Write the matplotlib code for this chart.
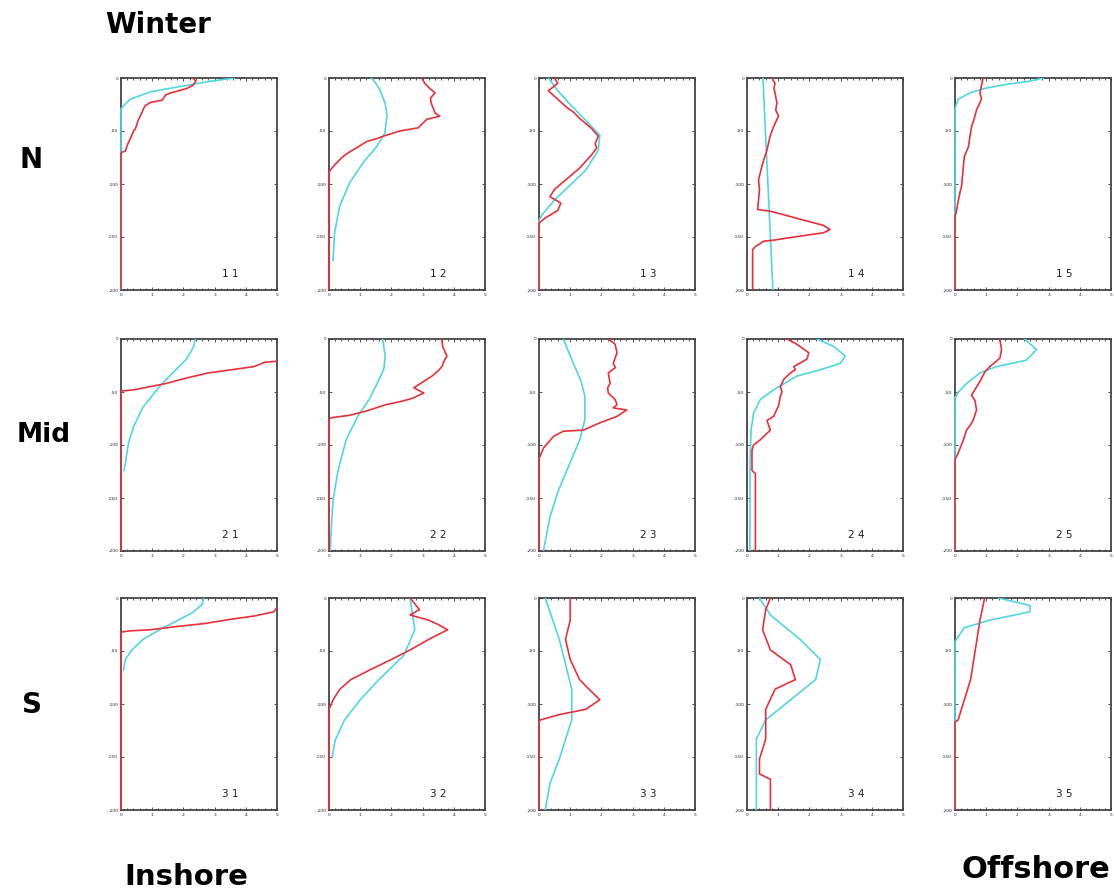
import matplotlib
matplotlib.use("Agg")
import matplotlib.pyplot as plt
from matplotlib.ticker import MultipleLocator
from matplotlib.patches import Rectangle

# Profiles: value (x) against depth (m, negative down); red = observed, cyan = model
red_11_x = [2.3, 2.4, 2.3, 2.1, 1.6, 1.43, 1.32, 0.95, 0.78, 0.72, 0.68, 0.55, 0.46, 0.40, 0.35, 0.22, 0.14, 0.03, 0.0, 0.0]
red_11_z = [0, -3, -7, -10, -14, -16, -21, -23, -26, -29, -32, -40, -48, -50, -54, -62, -69, -70, -71, -200]
cyan_11_x = [3.63, 2.88, 1.8, 0.95, 0.3, 0.09, 0.0, 0.0]
cyan_11_z = [0, -3, -8.5, -13, -20, -26, -29, -200]

red_12_x = [2.97, 3.07, 3.2, 3.4, 3.25, 3.28, 3.4, 3.55, 3.13, 2.86, 2.27, 1.73, 1.55, 1.2, 0.88, 0.7, 0.45, 0.18, 0.04, 0.0, 0.0]
red_12_z = [0, -5, -9, -14, -19, -24, -33, -36, -39, -47, -50, -55, -57, -60, -66, -69, -74, -82, -87, -89, -200]
cyan_12_x = [1.36, 1.5, 1.63, 1.8, 1.86, 1.79, 1.52, 1.09, 0.66, 0.34, 0.18, 0.13]
cyan_12_z = [0, -5, -11, -24, -35, -52, -65, -80, -99, -121, -146, -172]

red_13_x = [0.5, 0.6, 0.3, 0.6, 0.9, 1.1, 1.3, 1.5, 1.7, 1.9, 1.8, 1.85, 1.7, 1.3, 0.9, 0.5, 0.35, 0.7, 0.6, 0.2, 0.0, 0.0]
red_13_z = [0, -5, -12, -20, -28, -32, -38, -43, -48, -55, -62, -66, -72, -85, -95, -105, -112, -118, -125, -132, -137, -200]
cyan_13_x = [0.3, 0.6, 1.0, 1.5, 1.95, 1.9, 1.5, 1.0, 0.5, 0.1, 0.0, 0.0]
cyan_13_z = [0, -12, -25, -40, -54, -68, -87, -101, -115, -129, -134, -200]

red_14_x = [0.8, 0.9, 0.86, 0.9, 0.96, 0.92, 1.01, 0.85, 0.74, 0.64, 0.55, 0.48, 0.37, 0.40, 0.37, 0.34, 0.8, 1.8, 2.45, 2.66, 2.45, 1.28, 0.85, 0.53, 0.27, 0.18, 0.18]
red_14_z = [0, -5, -10, -14, -24, -30, -36, -46, -55, -68, -76, -83, -96, -105, -115, -124, -126, -134, -139, -143, -146, -151, -153, -154, -159, -162, -200]
cyan_14_x = [0.51, 0.83]
cyan_14_z = [0, -200]

red_15_x = [0.9, 0.8, 0.85, 0.69, 0.62, 0.53, 0.48, 0.43, 0.3, 0.27, 0.21, 0.16, 0.11, 0.03, 0.0, 0.0]
red_15_z = [0, -14, -20, -30, -38, -46, -55, -65, -74, -83, -102, -108, -115, -128, -130, -200]
cyan_15_x = [2.82, 2.4, 1.65, 1.0, 0.48, 0.1, 0.02, 0.0, 0.0]
cyan_15_z = [0, -3, -6, -9.5, -14, -20, -27, -30, -200]

red_21_x = [5.5, 5.0, 4.6, 4.27, 3.54, 2.8, 2.07, 1.44, 0.92, 0.4, 0.03, 0.0, 0.0]
red_21_z = [-18, -21, -22, -26, -29, -32, -37, -42, -45, -48, -49, -50, -200]
cyan_21_x = [2.38, 2.33, 2.2, 2.07, 1.65, 1.23, 0.71, 0.4, 0.24, 0.14, 0.1]
cyan_21_z = [0, -7, -14, -20, -32, -45, -64, -83, -98, -117, -124]

red_22_x = [3.62, 3.64, 3.78, 3.7, 3.62, 3.5, 3.3, 2.72, 3.04, 2.67, 2.3, 1.82, 1.19, 0.66, 0.13, 0.02, 0.0, 0.0]
red_22_z = [0, -7, -16, -20, -26, -30, -35, -46, -51, -56, -59, -62, -68, -72, -74, -75, -76, -200]
cyan_22_x = [1.72, 1.8, 1.76, 1.61, 1.29, 0.92, 0.55, 0.29, 0.13, 0.07, 0.04]
cyan_22_z = [0, -16, -28, -38, -57, -73, -95, -124, -152, -180, -200]

red_23_x = [2.22, 2.44, 2.5, 2.38, 2.45, 2.22, 2.28, 2.2, 2.22, 2.44, 2.5, 2.38, 2.81, 2.5, 1.96, 1.42, 0.78, 0.46, 0.14, 0.03, 0.0, 0.0]
red_23_z = [0, -5, -13, -23, -27, -32, -42, -46, -51, -57, -62, -65, -67, -73, -79, -86, -87, -92, -103, -111, -112, -200]
cyan_23_x = [0.78, 1.1, 1.35, 1.47, 1.47, 1.31, 0.99, 0.62, 0.35, 0.14]
cyan_23_z = [0, -23, -40, -54, -76, -95, -117, -143, -168, -200]

red_24_x = [1.28, 1.6, 1.98, 1.92, 1.5, 1.55, 1.39, 1.18, 1.07, 1.12, 1.07, 1.01, 0.85, 0.64, 0.75, 0.53, 0.43, 0.21, 0.16, 0.16, 0.27, 0.27]
red_24_z = [0, -5, -13, -19, -26, -29, -32, -38, -45, -50, -54, -63, -73, -77, -86, -92, -95, -100, -105, -124, -127, -200]
cyan_24_x = [2.24, 2.78, 3.15, 2.99, 2.35, 1.6, 0.85, 0.43, 0.21, 0.13, 0.1, 0.09]
cyan_24_z = [0, -7, -16, -23, -29, -35, -48, -57, -70, -86, -117, -200]

red_25_x = [1.44, 1.49, 1.44, 1.12, 0.96, 0.8, 0.53, 0.64, 0.69, 0.59, 0.52, 0.37, 0.27, 0.11, 0.03, 0.0, 0.0]
red_25_z = [0, -10, -18, -26, -31, -40, -53, -58, -67, -76, -80, -86, -95, -107, -112, -113, -200]
cyan_25_x = [2.23, 2.61, 2.29, 1.33, 0.8, 0.37, 0.11, 0.03, 0.0, 0.0]
cyan_25_z = [0, -10, -20, -26, -32, -42, -50, -54, -55, -200]

red_31_x = [5.3, 5.0, 4.9, 4.27, 3.54, 2.7, 1.76, 0.92, 0.29, 0.03, 0.0, 0.0]
red_31_z = [-7, -9, -13, -17, -20, -24, -27, -30, -31, -32, -33, -200]
cyan_31_x = [2.65, 2.6, 2.28, 1.76, 1.23, 0.71, 0.35, 0.14, 0.08]
cyan_31_z = [0, -6, -14, -22, -30, -39, -49, -58, -68]

red_32_x = [2.6, 2.9, 2.6, 3.2, 3.5, 3.8, 3.2, 2.6, 2.0, 1.3, 0.7, 0.35, 0.13, 0.0, 0.0]
red_32_z = [0, -11, -16, -21, -25, -30, -39, -49, -58, -68, -77, -86, -96, -105, -200]
cyan_32_x = [2.6, 2.75, 2.4, 1.6, 1.0, 0.5, 0.2, 0.1]
cyan_32_z = [0, -30, -54, -77, -96, -115, -134, -150]

red_33_x = [1.0, 1.0, 0.85, 1.0, 1.3, 1.6, 1.95, 1.5, 0.65, 0.05, 0.0, 0.0]
red_33_z = [0, -21, -39, -58, -77, -86, -96, -105, -110, -115, -116, -200]
cyan_33_x = [0.2, 0.65, 1.05, 1.05, 0.65, 0.35, 0.2]
cyan_33_z = [0, -39, -86, -115, -152, -175, -200]

red_34_x = [0.75, 0.6, 0.5, 0.75, 1.4, 1.55, 0.9, 0.6, 0.6, 0.4, 0.4, 0.75, 0.75]
red_34_z = [0, -11, -30, -49, -63, -77, -86, -105, -133, -152, -166, -171, -200]
cyan_34_x = [0.4, 0.75, 1.7, 2.35, 2.2, 1.4, 0.6, 0.3, 0.3]
cyan_34_z = [0, -16, -39, -58, -77, -96, -115, -133, -200]

red_35_x = [0.95, 0.8, 0.65, 0.5, 0.3, 0.1, 0.0, 0.0]
red_35_z = [0, -21, -49, -77, -96, -115, -117, -200]
cyan_35_x = [1.4, 2.4, 2.4, 1.1, 0.3, 0.05, 0.0, 0.0]
cyan_35_z = [0, -7, -13, -21, -28, -39, -41, -200]

panel_labels = [["1 1", "1 2", "1 3", "1 4", "1 5"],
                ["2 1", "2 2", "2 3", "2 4", "2 5"],
                ["3 1", "3 2", "3 3", "3 4", "3 5"]]
row_labels = ["N", "Mid", "S"]
x_ticks = [0, 1, 2, 3, 4, 5]
y_ticks = [0, -50, -100, -150, -200]

red_series = [[(red_11_x, red_11_z), (red_12_x, red_12_z), (red_13_x, red_13_z), (red_14_x, red_14_z), (red_15_x, red_15_z)],
              [(red_21_x, red_21_z), (red_22_x, red_22_z), (red_23_x, red_23_z), (red_24_x, red_24_z), (red_25_x, red_25_z)],
              [(red_31_x, red_31_z), (red_32_x, red_32_z), (red_33_x, red_33_z), (red_34_x, red_34_z), (red_35_x, red_35_z)]]
cyan_series = [[(cyan_11_x, cyan_11_z), (cyan_12_x, cyan_12_z), (cyan_13_x, cyan_13_z), (cyan_14_x, cyan_14_z), (cyan_15_x, cyan_15_z)],
               [(cyan_21_x, cyan_21_z), (cyan_22_x, cyan_22_z), (cyan_23_x, cyan_23_z), (cyan_24_x, cyan_24_z), (cyan_25_x, cyan_25_z)],
               [(cyan_31_x, cyan_31_z), (cyan_32_x, cyan_32_z), (cyan_33_x, cyan_33_z), (cyan_34_x, cyan_34_z), (cyan_35_x, cyan_35_z)]]

RED = "#e8303a"
CYAN = "#4fd6e6"
W, H = 1114, 893

fig = plt.figure(figsize=(W / 100, H / 100), dpi=100)
fig.patch.set_facecolor("white")

col_left = [121, 329, 539, 747, 955]
row_top = [78, 339, 598]
ax_w, ax_h = 156, 212

for r in range(3):
    for c in range(5):
        left = col_left[c] / W
        bottom = 1 - (row_top[r] + ax_h) / H
        ax = fig.add_axes([left, bottom, ax_w / W, ax_h / H])
        # clip slightly outside the left spine so profiles resting on x=0 stay visible
        clip = Rectangle((-0.012, 0), 1.012, 1, transform=ax.transAxes, fill=False, visible=False)
        ax.add_patch(clip)
        cx, cz = cyan_series[r][c]
        rx, rz = red_series[r][c]
        lc, = ax.plot(cx, cz, color=CYAN, lw=1.2, zorder=3, solid_joinstyle="round")
        lr, = ax.plot(rx, rz, color=RED, lw=1.2, zorder=4, solid_joinstyle="round")
        lc.set_clip_path(clip)
        lr.set_clip_path(clip)
        ax.set_xlim(0, 5)
        ax.set_ylim(-200, 0)
        ax.set_xticks(x_ticks)
        ax.set_yticks(y_ticks)
        ax.xaxis.set_minor_locator(MultipleLocator(0.2))
        ax.tick_params(axis="both", which="both", direction="in", top=True, right=True,
                       labelsize=3.2, pad=2, width=0.6, colors="#333333", labelcolor="#222222")
        ax.tick_params(which="major", length=2.5)
        ax.tick_params(which="minor", length=1.5)
        ax.set_xticklabels([str(t) for t in x_ticks])
        ax.set_yticklabels([str(t) for t in y_ticks])
        for s in ax.spines.values():
            s.set_linewidth(1.3)
            s.set_color("#444444")
            s.set_zorder(2)
        ax.text(3.5, -185, panel_labels[r][c], fontsize=7.5, ha="center", va="center", color="#222222")

big = dict(family="DejaVu Sans", color="black", fontweight="bold")
fig.text(105 / W, 1 - 25 / H, "Winter", fontsize=20, ha="left", va="center", **big)
fig.text(31 / W, 1 - 160 / H, row_labels[0], fontsize=20, ha="center", va="center", **big)
fig.text(44 / W, 1 - 435 / H, row_labels[1], fontsize=19, ha="center", va="center", **big)
fig.text(32 / W, 1 - 705 / H, row_labels[2], fontsize=20, ha="center", va="center", **big)
fig.text(124 / W, 1 - 877 / H, "Inshore", fontsize=21, ha="left", va="center", **big)
fig.text(1110 / W, 1 - 870 / H, "Offshore", fontsize=22, ha="right", va="center", **big)

fig.savefig("out.png", dpi=100, facecolor="white")
